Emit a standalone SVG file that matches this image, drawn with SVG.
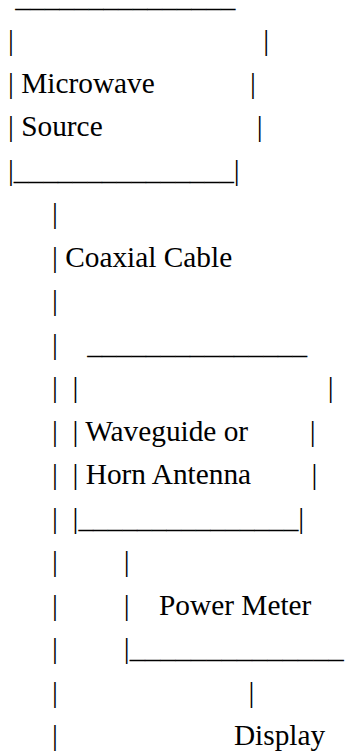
<svg xmlns="http://www.w3.org/2000/svg" width="346" height="755" viewBox="0 0 346 755" xml:space="preserve">
<style>
.t{font-family:'Liberation Serif','Times New Roman',serif;font-size:29.333px;fill:#000;white-space:pre}
</style>
<rect width="346" height="755" fill="#fff"/>
<g id="microwave-source" class="t">
<text x="15.33" y="7">_______________</text>
<text x="8" y="49.53">|</text><text x="263.2" y="49.53">|</text>
<text x="8" y="93">| Microwave</text><text x="250.1" y="93">|</text>
<text x="8" y="136.47">| Source</text><text x="256.65" y="136.47">|</text>
<text x="8" y="179.94">|_______________|</text>
</g>
<g id="connectors" class="t">
<text x="52" y="223.41">|</text>
<text x="52" y="266.88">| Coaxial Cable</text>
<text x="52" y="310.35">|</text>
<text x="52" y="353.82">|</text>
<text x="52" y="397.29">|</text>
<text x="52" y="440.76">|</text>
<text x="52" y="484.23">|</text>
<text x="52" y="527.70">|</text>
<text x="52" y="571.17">|</text>
<text x="52" y="614.64">|</text>
<text x="52" y="658.11">|</text>
<text x="52" y="701.58">|</text>
<text x="52" y="745.05">|</text>
<text x="123.87" y="571.17">|</text>
<text x="248.5" y="701.58">|</text>
</g>
<g id="waveguide-horn" class="t">
<text x="87.2" y="353.82">_______________</text>
<text x="72.53" y="397.29">|</text><text x="327.7" y="397.29">|</text>
<text x="72.53" y="440.76">| Waveguide or</text><text x="309.8" y="440.76">|</text>
<text x="72.53" y="484.23">| Horn Antenna</text><text x="311.4" y="484.23">|</text>
<text x="72.53" y="527.70">|_______________|</text>
</g>
<g id="power-meter" class="t">
<text x="123.87" y="614.64">|</text><text x="159.07" y="614.64">Power Meter</text>
<text x="123.87" y="658.11">|</text><text x="129.73" y="658.11" textLength="214" lengthAdjust="spacingAndGlyphs">______________</text>
</g>
<g id="display" class="t">
<text x="233.9" y="745.05">Display</text>
</g>
</svg>
